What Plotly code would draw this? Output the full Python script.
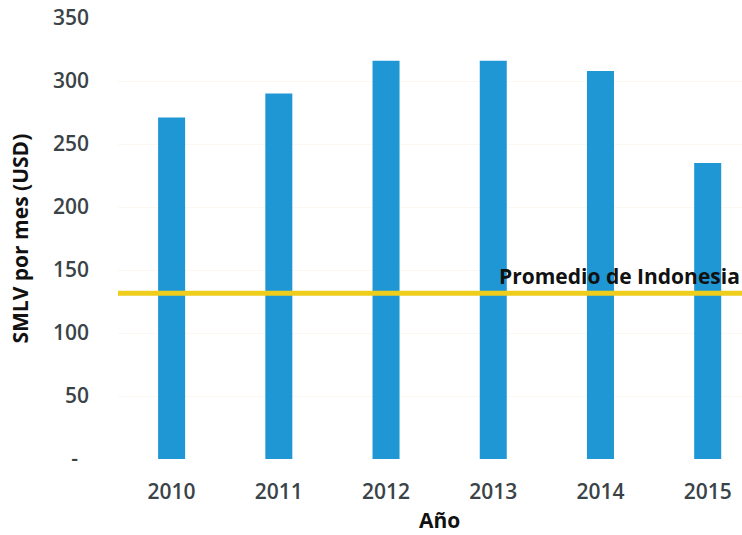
import plotly.graph_objects as go

years = ["2010", "2011", "2012", "2013", "2014", "2015"]
smlv = [271, 290, 316, 316, 308, 235]
indonesia_avg = 131.5
ytick_vals = [0, 50, 100, 150, 200, 250, 300, 350]
ytick_text = ["-\u00a0\u00a0", "50", "100", "150", "200", "250", "300", "350"]

FONT = "Open Sans"
BAR = "#1f97d5"
YEL = "#eecd1c"

fig = go.Figure()
fig.add_trace(go.Bar(x=list(range(len(years))), y=smlv, marker=dict(color=BAR, line=dict(width=0)),
                     hoverinfo="skip"))

fig.add_shape(type="line", xref="paper", x0=0, x1=1, yref="y", y0=indonesia_avg, y1=indonesia_avg,
              line=dict(color=YEL, width=5))

fig.add_annotation(text="<b>Promedio de Indonesia</b>", xref="paper", x=1, xanchor="right", xshift=0,
                   yref="y", y=indonesia_avg, yanchor="bottom", yshift=1, showarrow=False,
                   font=dict(family=FONT, size=21, color="#111111"))

fig.add_annotation(text="<b>Año</b>", xref="x", x=(len(years) - 1) / 2, yref="paper", y=0, yanchor="bottom",
                   yshift=-76, borderpad=0, showarrow=False, font=dict(family=FONT, size=21, color="#111111"))

fig.add_annotation(text="<b>SMLV por mes (USD)</b>", xref="paper", x=0, xshift=-99, xanchor="center",
                   yref="paper", y=0.5, yanchor="middle", textangle=-90, showarrow=False,
                   font=dict(family=FONT, size=21, color="#111111"))

fig.update_layout(
    width=742, height=535,
    margin=dict(l=118, r=0, t=18, b=76),
    paper_bgcolor="white", plot_bgcolor="white",
    bargap=0.748, showlegend=False,
    font=dict(family=FONT),
    xaxis=dict(range=[-0.5, 5.32], tickvals=list(range(len(years))), ticktext=years,
               showgrid=False, zeroline=False, showline=False, ticks="",
               tickfont=dict(family=FONT, size=21, color="#3a4347", weight=600), ticklabelstandoff=18,
               fixedrange=True),
    yaxis=dict(range=[0, 350], tickvals=ytick_vals, ticktext=ytick_text,
               showgrid=True, gridcolor="#fcf8f1", gridwidth=1, zeroline=False, showline=False, ticks="",
               tickfont=dict(family=FONT, size=21, color="#3a4347", weight=600), ticklabelstandoff=28,
               fixedrange=True),
)

fig.write_html("out.html")
